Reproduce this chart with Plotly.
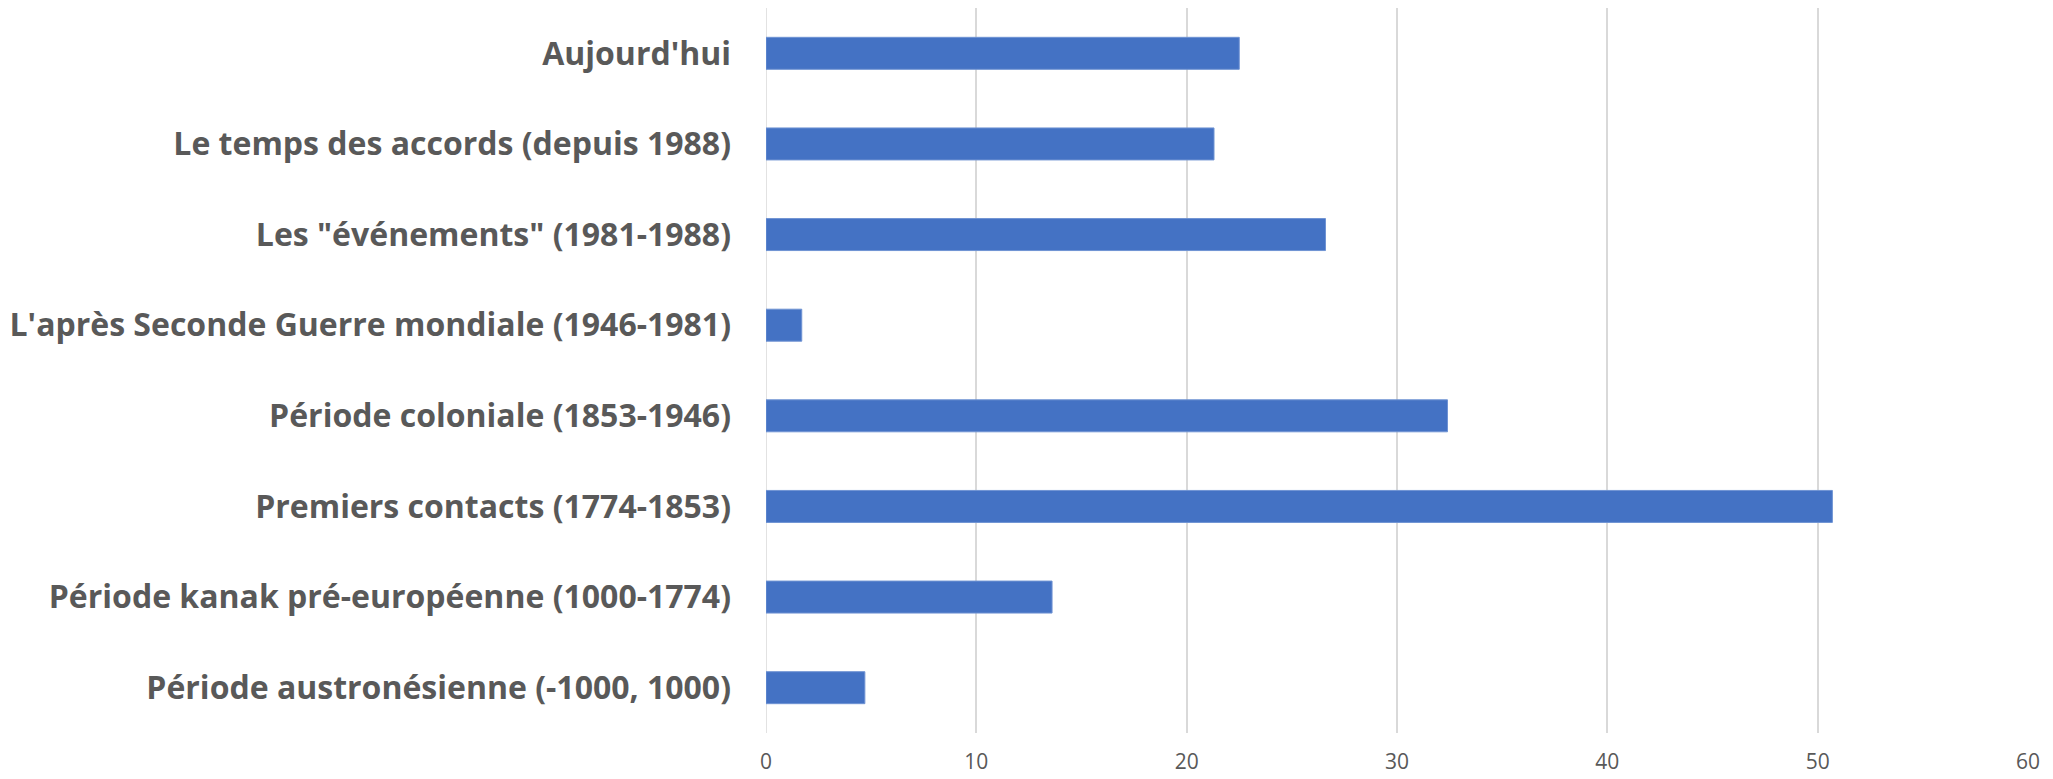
import plotly.graph_objects as go

categories = [
    "Période austronésienne (-1000, 1000)",
    "Période kanak pré-européenne (1000-1774)",
    "Premiers contacts (1774-1853)",
    "Période coloniale (1853-1946)",
    "L'après Seconde Guerre mondiale (1946-1981)",
    "Les \"événements\" (1981-1988)",
    "Le temps des accords (depuis 1988)",
    "Aujourd'hui",
]
values = [4.7, 13.6, 50.7, 32.4, 1.7, 26.6, 21.3, 22.5]
x_ticks = [0, 10, 20, 30, 40, 50, 60]

fig = go.Figure(
    go.Bar(
        y=categories,
        x=values,
        orientation="h",
        marker=dict(color="#4472C4", line=dict(color="#6F93D3", width=1)),
        hoverinfo="x+y",
    )
)

fig.update_layout(
    width=2053,
    height=779,
    margin=dict(l=766, r=25, t=8, b=46),
    plot_bgcolor="white",
    paper_bgcolor="white",
    bargap=0.647,
    showlegend=False,
    font=dict(family="Open Sans", color="#595959"),
)
fig.update_xaxes(
    range=[0, 60],
    tickvals=x_ticks,
    showgrid=True,
    gridcolor="#D9D9D9",
    gridwidth=1.5,
    zeroline=False,
    showline=False,
    tickfont=dict(size=21, color="#595959", family="Open Sans"),
    ticklabelstandoff=14,
    automargin=False,
)
fig.update_yaxes(
    categoryorder="array",
    categoryarray=categories,
    showgrid=False,
    zeroline=False,
    showline=False,
    tickfont=dict(size=32, color="#595959", family="Open Sans", weight="bold"),
    ticklabelstandoff=34,
    automargin=False,
)
fig.add_shape(type="line", xref="x", yref="paper", x0=0, x1=0, y0=0, y1=1,
              line=dict(color="#D9D9D9", width=1.5), layer="below")

fig.write_html("out.html")
